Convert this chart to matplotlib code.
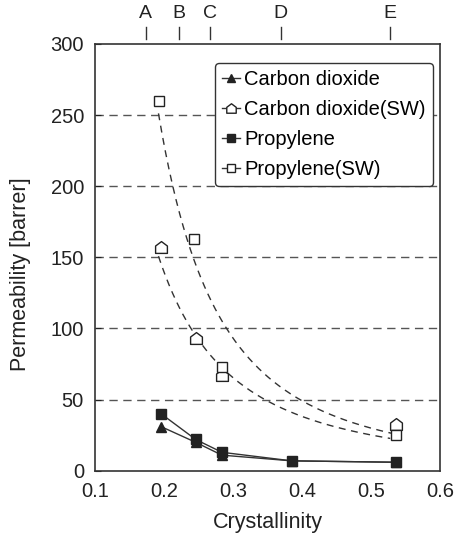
import numpy as np
import matplotlib
matplotlib.use("Agg")
import matplotlib.pyplot as plt
from matplotlib.path import Path
from matplotlib.lines import Line2D
import matplotlib.transforms as mtransforms

plt.rcParams['font.family'] = ['Liberation Sans', 'DejaVu Sans']

# crystallinity of the samples
crystallinity = [0.196, 0.246, 0.284, 0.385, 0.537]
co2 = [31, 20, 11, 7, 6]
propylene = [40, 22, 13, 7, 6]

# swollen (SW) samples
x_co2_sw = [0.196, 0.246, 0.284, 0.537]
co2_sw = [157, 93, 67, 33]
x_prop_sw = [0.193, 0.244, 0.284, 0.537]
prop_sw = [260, 163, 73, 25]

# power-law trend lines y = a * x**b for the SW samples
co2_sw_trend = {'a': 6.89, 'b': -1.87, 'x0': 0.192, 'x1': 0.528}
prop_sw_trend = {'a': 6.44, 'b': -2.22, 'x0': 0.192, 'x1': 0.532}

# reference positions along the top
sample_names = ['A', 'B', 'C', 'D', 'E']
sample_pos = [0.1735, 0.222, 0.266, 0.369, 0.528]

yticks = [0, 50, 100, 150, 200, 250, 300]
xticks = [0.1, 0.2, 0.3, 0.4, 0.5, 0.6]

# "house" shaped open marker
house = Path([(-1, -1), (1, -1), (1, 0.25), (0, 1), (-1, 0.25), (-1, -1)],
             [Path.MOVETO, Path.LINETO, Path.LINETO, Path.LINETO, Path.LINETO, Path.CLOSEPOLY])

fig = plt.figure(figsize=(4.68, 5.35), dpi=100)
ax = fig.add_axes([0.203, 0.12, 0.737, 0.798])

ax.set_xlim(0.1, 0.6)
ax.set_ylim(0, 300)

# dashed horizontal grid
for y in yticks[1:-1]:
    ax.axhline(y, color='#555555', lw=1.0, ls=(0, (6, 4)), zorder=1)

for tr in (co2_sw_trend, prop_sw_trend):
    xx = np.linspace(tr['x0'], tr['x1'], 200)
    ax.plot(xx, tr['a'] * xx ** tr['b'], color='#333333', lw=1.0,
            ls=(0, (5, 4)), zorder=2)

ax.plot(crystallinity, co2, color='#333333', lw=1.0, marker='^', ms=7,
        mfc='#222222', mec='#222222', label='Carbon dioxide', zorder=3)
ax.plot(x_co2_sw, co2_sw, ls='none', marker=house, ms=8.5, mfc='white',
        mec='#222222', mew=1.0, label='Carbon dioxide(SW)', zorder=4)
ax.plot(crystallinity, propylene, color='#333333', lw=1.0, marker='s', ms=7,
        mfc='#222222', mec='#222222', label='Propylene', zorder=3)
ax.plot(x_prop_sw, prop_sw, ls='none', marker='s', ms=7, mfc='white',
        mec='#222222', mew=1.0, label='Propylene(SW)', zorder=4)

# legend handles show a short line through the marker
handles, labels = ax.get_legend_handles_labels()
leg_handles = [Line2D([], [], color='#333333', lw=1.0, marker=h.get_marker(),
                      ms=h.get_markersize() * 0.8, mfc=h.get_markerfacecolor(),
                      mec=h.get_markeredgecolor()) for h in handles]
leg = ax.legend(leg_handles, labels, loc='upper right', bbox_to_anchor=(0.98, 0.955),
                fontsize=14.5, frameon=True, fancybox=True, framealpha=1,
                edgecolor='#333333', handlelength=0.9, handletextpad=0.2,
                borderpad=0.35, labelspacing=0.55, borderaxespad=0)
leg.get_frame().set_linewidth(1.0)
leg.set_zorder(5)

ax.set_xticks(xticks)
ax.set_yticks(yticks)
ax.set_xticklabels([f'{t:.1f}' for t in xticks])
ax.tick_params(axis='x', length=0, labelsize=14.5, pad=8, colors='#222222')
ax.tick_params(axis='y', length=4, direction='in', labelsize=14.5, pad=8, colors='#222222')
for s in ax.spines.values():
    s.set_linewidth(1.2)
    s.set_color('#333333')

ax.set_xlabel('Crystallinity', fontsize=15.5, labelpad=8, color='#222222')
ax.set_ylabel('Permeability [barrer]', fontsize=15.5, color='#222222')
ax.yaxis.set_label_coords(-0.185, 0.46)

# sample markers above the frame
trans = mtransforms.blended_transform_factory(ax.transData, ax.transAxes)
for name, pos in zip(sample_names, sample_pos):
    ax.plot([pos, pos], [1.012, 1.040], color='#333333', lw=1.0, transform=trans, clip_on=False)
    ax.text(pos, 1.072, name, transform=trans, ha='center', va='center', fontsize=14, color='#222222')

fig.savefig('out.png', dpi=100, facecolor='white')
